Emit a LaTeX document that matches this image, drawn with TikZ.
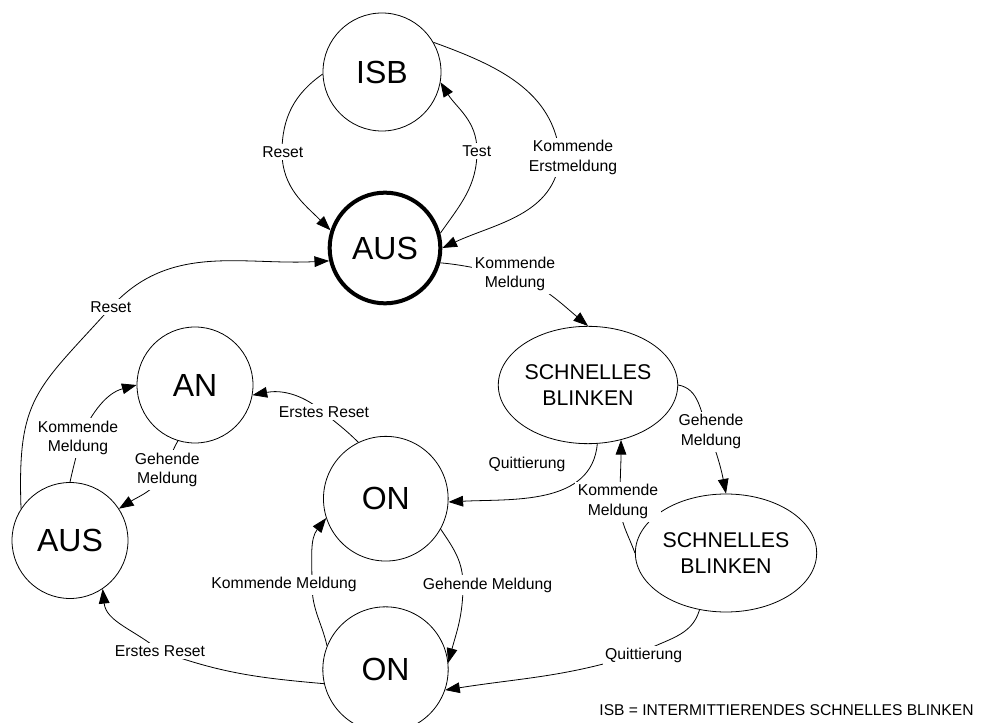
\documentclass[tikz,border=0pt]{standalone}
\usepackage{fontspec}
\setmainfont{Liberation Sans}
\usetikzlibrary{shapes.geometric,arrows.meta}
\begin{document}
\begin{tikzpicture}[x=0.75pt,y=0.75pt,
  state/.style={circle,draw,line width=0.6pt,inner sep=0pt,font=\fontsize{24}{28}\selectfont},
  blink/.style={ellipse,draw,line width=0.6pt,inner sep=0pt,align=center,font=\fontsize{16}{19.5}\selectfont},
  lbl/.style={fill=white,inner sep=2pt,align=center,font=\fontsize{11.8}{14.8}\selectfont},
  plainlbl/.style={inner sep=0pt,align=center,font=\fontsize{11.8}{14.8}\selectfont},
  arr/.style={line width=0.6pt,-{Triangle[length=11pt,width=8pt]}},
]
\useasboundingbox (0,0) rectangle (1004,722);

% states
\node[state,minimum size=88.5pt] (isb) at (382,650) {ISB};
\node[state,line width=3pt,minimum size=83pt] (aus) at (385,474) {AUS};
\node[state,minimum size=87pt] (an) at (195,337) {AN};
\node[state,minimum size=87pt] (aus2) at (70,181.5) {AUS};
\node[state,minimum size=93.5pt] (on1) at (385.8,223.3) {ON};
\node[state,minimum size=94pt] (on2) at (385.5,52.5) {ON};
\node[blink,minimum width=118.5pt,minimum height=88pt] (sb1) at (588,337) {SCHNELLES\\BLINKEN};
\node[blink,minimum width=136pt,minimum height=88.5pt] (sb2) at (726,169) {SCHNELLES\\BLINKEN};

% points where the connectors pass the labels
\coordinate (cReset1) at (282,570);
\coordinate (cTest) at (477,571);
\coordinate (cKE) at (560,565);
\coordinate (cKM1) at (515,448);
\coordinate (cReset2) at (111,414.7);
\coordinate (cKM2) at (80,284);
\coordinate (cGM2) at (167,252);
\coordinate (cER1) at (322,311);
\coordinate (cKM3) at (312,137);
\coordinate (cGM3) at (463,137);
\coordinate (cER2) at (160,71);
\coordinate (cKM4) at (620,220);
\coordinate (cGM4) at (709,290);
\coordinate (cQ2) at (641,69);

% connectors
\draw[arr] (isb.182) to[out=215,in=90] (cReset1) to[out=270,in=135] (aus.162);
\draw[arr] (aus.15) to[out=55,in=270] (cTest) to[out=90,in=-58] (isb.-10);
\draw[arr] (isb.30) to[out=-20,in=95] (cKE) to[out=265,in=25] (aus.0);
\draw[arr] (aus.-15) to[out=-5,in=175] (cKM1) to[out=-25,in=140] (sb1.north);
\draw[arr] (aus2.147) to[out=92,in=228,looseness=1.3] (cReset2) to[out=48,in=183] (aus.193);
\draw[arr] (aus2.90) to[out=78,in=260] (cKM2) to[out=65,in=195] (an.180);
\draw[arr] (an.253) to[out=240,in=75] (cGM2) to[out=240,in=32] (aus2.33);
\draw[arr] (on1.116) to[out=135,in=-40] (cER1) to[out=140,in=11] (an.-10);
\draw[arr] (sb1.-81) to[out=265,in=3] (on1.-3);
\draw[arr] (sb2.west) to[out=110,in=270] (cKM4) to[out=90,in=270] (sb1.-59);
\draw[arr] (sb1.east) to[out=-10,in=115] (cGM4) to[out=-70,in=101] (sb2.north);
\draw[arr] (sb2.-115) to[out=254,in=30] (cQ2) to[out=198,in=9] (on2.-19);
\draw[arr] (on2.158) to[out=103,in=270] (cKM3) to[out=90,in=232] (on1.198);
\draw[arr] (on1.-29) to[out=-56,in=90] (cGM3) to[out=270,in=75] (on2.6);
\draw[arr] (on2.193) to[out=175,in=-20] (cER2) to[out=140,in=-84] (aus2.-56);

% labels
\node[lbl] (lReset1) at (282.8,570.3) {Reset};
\node[lbl] (lTest) at (476.7,571) {Test};
\node[lbl] (lKE) at (573,564.5) {Kommende\\Erstmeldung};
\node[lbl] (lKM1) at (515,448) {Kommende\\Meldung};
\node[lbl] (lReset2) at (110.8,414.7) {Reset};
\node[lbl] (lKM2) at (78,284) {Kommende\\Meldung};
\node[lbl] (lGM2) at (167.3,252) {Gehende\\Meldung};
\node[lbl] (lER1) at (324,310) {Erstes Reset};
\node[plainlbl] (lQ1) at (527,258) {Quittierung};
\node[lbl] (lKM4) at (618,220.3) {Kommende\\Meldung};
\node[lbl] (lGM4) at (711,290.3) {Gehende\\Meldung};
\node[lbl] (lQ2) at (643.7,66.5) {Quittierung};
\node[lbl] (lKM3) at (284,137.3) {Kommende Meldung};
\node[lbl] (lGM3) at (487.5,137) {Gehende Meldung};
\node[lbl] (lER2) at (160,71) {Erstes Reset};

\node[font=\fontsize{11.7}{14}\selectfont,inner sep=0pt] (note) at (786.5,12.3) {ISB = INTERMITTIERENDES SCHNELLES BLINKEN};
\end{tikzpicture}
\end{document}
